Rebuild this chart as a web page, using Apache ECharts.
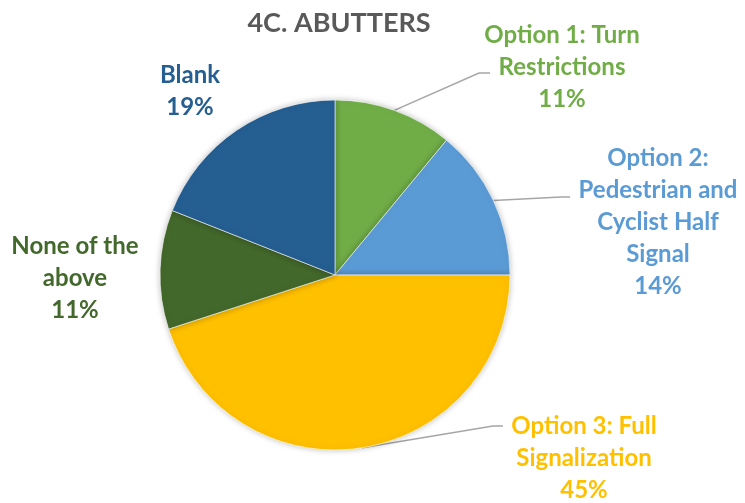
<!DOCTYPE html>
<html>
<head>
<meta charset="utf-8">
<script src="https://cdn.jsdelivr.net/npm/echarts@6/dist/echarts.min.js"></script>
<style>
  html, body { margin: 0; padding: 0; background: #fff; }
  #chart { width: 745px; height: 503px; }
</style>
</head>
<body>
<div id="chart"></div>
<script>
// Survey responses (percent), clockwise from 12 o'clock
const categories = [
  'Option 1: Turn\nRestrictions',
  'Option 2:\nPedestrian and\nCyclist Half\nSignal',
  'Option 3: Full\nSignalization',
  'None of the\nabove',
  'Blank'
];
const shares = [11, 14, 45, 11, 19];
const colors = ['#70AD47', '#5B9BD5', '#FFC000', '#43682B', '#255E91'];

// Label anchor spots (centre of each text block)
const labelSpots = [
  [562, 67], [658, 222], [584, 458], [75, 278], [190, 91]
];
// Where each leader line meets its label: offset from the label spot
// (bend point, end point); null = no leader line
const leaderEnds = [
  [[-83, 6], [-72, 6]],
  [[-97, -25], [-88, -25]],
  [[-91, -32], [-81, -32]],
  null,
  null
];

const chart = echarts.init(document.getElementById('chart'), null, { renderer: 'canvas' });

const font = 'Lato, "Open Sans", sans-serif';

chart.setOption({
  animation: false,
  title: {
    text: '4C. ABUTTERS',
    left: 334,
    top: 5,
    textAlign: 'center',
    textStyle: { fontFamily: font, fontSize: 27, fontWeight: 'bold', color: '#595959' }
  },
  series: [{
    type: 'pie',
    center: [335, 275],
    radius: 175,
    startAngle: 90,
    clockwise: true,
    itemStyle: {
      borderColor: '#ffffff',
      borderWidth: 0.6,
      shadowBlur: 6,
      shadowColor: 'rgba(0,0,0,0.25)'
    },
    label: {
      show: true,
      position: 'outside',
      formatter: p => p.name + '\n' + p.value + '%',
      fontFamily: font,
      fontSize: 24,
      fontWeight: 'bold',
      lineHeight: 32,
      align: 'center',
      overflow: 'none',
      edgeDistance: 0
    },
    labelLine: {
      show: true,
      lineStyle: { color: '#A6A6A6', width: 1.5 },
      length: 10,
      length2: 10
    },
    labelLayout: params => {
      const i = params.dataIndex;
      const s = labelSpots[i];
      const out = { x: s[0], y: s[1], align: 'center', verticalAlign: 'middle' };
      const ends = leaderEnds[i];
      if (ends && params.labelLinePoints) {
        const start = params.labelLinePoints[0];
        out.labelLinePoints = [
          [start[0], start[1]],
          [s[0] + ends[0][0], s[1] + ends[0][1]],
          [s[0] + ends[1][0], s[1] + ends[1][1]]
        ];
      }
      return out;
    },
    data: categories.map((name, i) => ({
      name: name,
      value: shares[i],
      itemStyle: { color: colors[i] },
      label: { color: colors[i] },
      labelLine: { show: leaderEnds[i] !== null }
    }))
  }]
});
</script>
</body>
</html>
